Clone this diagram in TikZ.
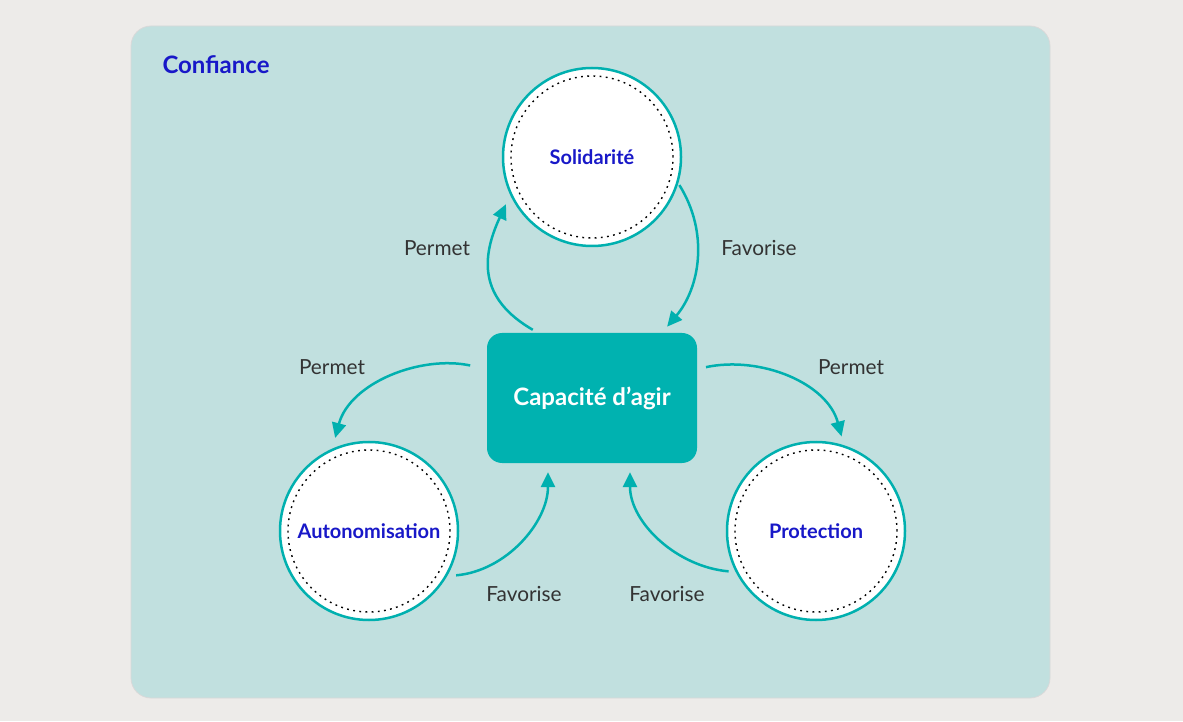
\documentclass[tikz,border=0pt]{standalone}
\usepackage{fontspec}
\setmainfont{Lato}
\usetikzlibrary{arrows.meta,calc}
\definecolor{bgc}{HTML}{EDEBE9}
\definecolor{panelc}{HTML}{C1E0DF}
\definecolor{tealc}{HTML}{00B0AF}
\definecolor{boxc}{HTML}{00B2B0}
\definecolor{navyc}{HTML}{1818C8}
\definecolor{txtc}{HTML}{333333}
\begin{document}
\begin{tikzpicture}[x=1pt,y=1pt,
  circ/.style={circle,draw=tealc,line width=2.5pt,fill=white,minimum size=178pt,inner sep=0pt,
    font=\bfseries\fontsize{20}{24}\selectfont,text=navyc},
  dots/.style={draw=black,line width=1.4pt,dash pattern=on 1.8pt off 4.4pt},
  arr/.style={draw=tealc,line width=2.5pt,-{Triangle[length=15pt,width=14pt]}},
  lbl/.style={font=\fontsize{20.8}{24}\selectfont,text=txtc},
]
\useasboundingbox (0,0) rectangle (1183,721);
\fill[bgc] (0,0) rectangle (1183,721);
\filldraw[fill=panelc,draw=black!15,line width=0.8pt,rounded corners=20pt] (131,23) rectangle (1050,695);

\node[anchor=west,font=\bfseries\fontsize{24}{28}\selectfont,text=navyc] (conf) at (159,656) {Confiance};

\node[circ] (sol) at (592,564) {Solidarité};
\node[circ] (aut) at (369,190) {Autonomisation};
\node[circ] (pro) at (816,190) {Protection};
\draw[dots] (sol.center) circle (81);
\draw[dots] (aut.center) circle (81);
\draw[dots] (pro.center) circle (81);

\node[rectangle,rounded corners=15pt,fill=boxc,minimum width=210pt,minimum height=130pt,
  text=white,font=\bfseries\fontsize{24}{28}\selectfont] (cap) at (592,323) {Capacité d’agir};

\draw[arr,shorten <=6pt,shorten >=10pt] ([xshift=-54pt]cap.north) to[out=150,in=245,looseness=1.25] (sol.205);
\draw[arr,shorten <=2pt,shorten >=8pt] (sol.343) to[out=-58,in=50] ([xshift=70pt]cap.north);
\draw[arr,shorten <=17pt,shorten >=11pt] ([yshift=29pt]cap.west) to[out=168,in=75] (aut.114);
\draw[arr,shorten <=9pt,shorten >=9pt] ([yshift=29pt]cap.east) to[out=12,in=105] (pro.72);
\draw[arr,shorten <=9pt,shorten >=9pt] (aut.330) to[out=5,in=270] ([xshift=-44pt]cap.south);
\draw[arr,shorten <=7pt,shorten >=9pt] (pro.207) to[out=175,in=270] ([xshift=38pt]cap.south);

\node[lbl] (l1) at (437,473) {Permet};
\node[lbl] (l2) at (759,473) {Favorise};
\node[lbl] (l3) at (332,354) {Permet};
\node[lbl] (l4) at (851,354) {Permet};
\node[lbl] (l5) at (524,127) {Favorise};
\node[lbl] (l6) at (667,127) {Favorise};
\end{tikzpicture}
\end{document}
